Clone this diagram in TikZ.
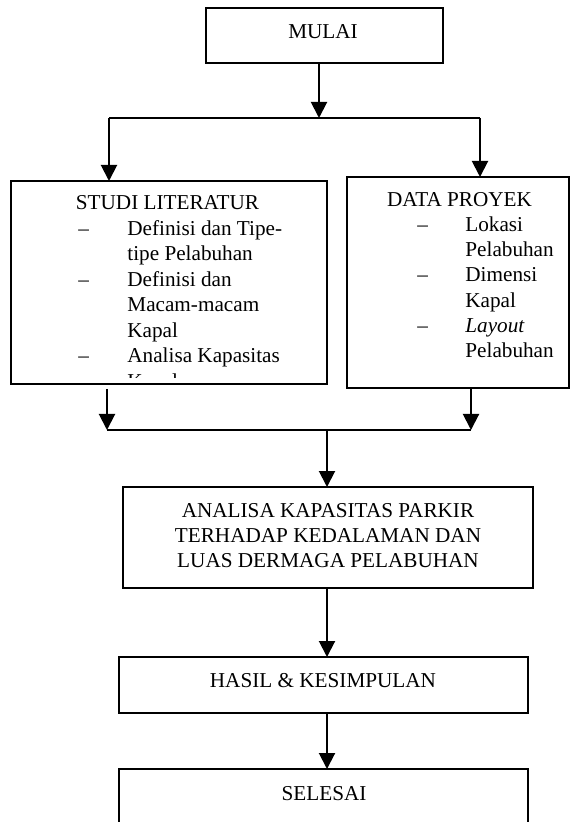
\documentclass[tikz,border=0pt]{standalone}
\usepackage{fontspec}
\setmainfont{Liberation Serif}
\usetikzlibrary{arrows.meta}
\begin{document}
\begin{tikzpicture}[x=0.5pt,y=-0.5pt,
  box/.style={draw, line width=1pt, inner sep=0pt, outer sep=0pt},
  txt/.style={anchor=base, inner sep=0pt, font=\fontsize{10.6pt}{12.5pt}\selectfont},
  ltxt/.style={txt, anchor=base west},
  conn/.style={line width=1pt},
  arr/.style={conn, -{Triangle[width=8pt,length=8pt]}}]
\useasboundingbox (0,0) rectangle (571,822);
\clip (0,0) rectangle (571,822);
% boxes
\node[box, minimum width=118.5pt, minimum height=27.5pt] (mulai) at (324.5,35.5) {};
\node[box, minimum width=158pt, minimum height=101.5pt] (studi) at (169,282.5) {};
\node[box, minimum width=111pt, minimum height=105.5pt] (data) at (458,282.5) {};
\node[box, minimum width=205pt, minimum height=50.5pt] (analisa) at (328,537.5) {};
\node[box, minimum width=204.5pt, minimum height=28pt] (hasil) at (323.5,685) {};
\node[box, minimum width=204.5pt, minimum height=50.5pt] (selesai) at (323.5,819.5) {};
% junction points
\coordinate (s) at (319,118);
\coordinate (sl) at (109,118);
\coordinate (sr) at (480,118);
\coordinate (ml) at (107,430);
\coordinate (mr) at (471,430);
\coordinate (mc) at (327,430);
\path (studi.south -| ml) ++(0,5) coordinate (sb);
\path (data.south -| mr) ++(0,1) coordinate (db);
% connectors
\draw[arr] (mulai.south -| s) -- (s);
\draw[conn] (sl) -- (sr);
\draw[arr] (sl) -- (studi.north -| sl);
\draw[arr] (sr) -- (data.north -| sr);
\draw[arr] (sb) -- (ml);
\draw[arr] (db) -- (mr);
\draw[conn] (ml) -- (mr);
\draw[arr] (mc) -- (analisa.north -| mc);
\draw[arr] (analisa.south -| mc) -- (hasil.north -| mc);
\draw[arr] (hasil.south -| mc) -- (selesai.north -| mc);
% texts
\node[txt] (tmulai) at (323,39) {MULAI};
\node[txt] (st0) at (167.5,210) {STUDI LITERATUR};
\node[ltxt] (sd1) at (78,235.5) {–};
\node[ltxt] (si1) at (127,235.5) {Definisi dan Tipe-};
\node[ltxt] (si2) at (127,261) {tipe Pelabuhan};
\node[ltxt] (sd2) at (78,286.5) {–};
\node[ltxt] (si3) at (127,286.5) {Definisi dan};
\node[ltxt] (si4) at (127,312) {Macam-macam};
\node[ltxt] (si5) at (127,337.5) {Kapal};
\node[ltxt] (sd3) at (78,363) {–};
\node[ltxt] (si6) at (127,363) {Analisa Kapasitas};
\begin{scope}
\clip (11,181) rectangle (327,378);
\node[ltxt] (si7) at (127,388.5) {Kapal};
\end{scope}
\node[txt] (dt0) at (459.5,207) {DATA PROYEK};
\node[ltxt] (dd1) at (417,232) {–};
\node[ltxt] (di1) at (465,232) {Lokasi};
\node[ltxt] (di2) at (465,257) {Pelabuhan};
\node[ltxt] (dd2) at (417,282) {–};
\node[ltxt] (di3) at (465,282) {Dimensi};
\node[ltxt] (di4) at (465,308) {Kapal};
\node[ltxt] (dd3) at (417,333) {–};
\node[ltxt] (di5) at (465,333) {\textit{Layout}};
\node[ltxt] (di6) at (465,358) {Pelabuhan};
\node[txt] (ta1) at (328,517) {ANALISA KAPASITAS PARKIR};
\node[txt] (ta2) at (328,542) {TERHADAP KEDALAMAN DAN};
\node[txt] (ta3) at (328,567) {LUAS DERMAGA PELABUHAN};
\node[txt] (thasil) at (323,687) {HASIL \& KESIMPULAN};
\node[txt] (tselesai) at (324,800) {SELESAI};
\end{tikzpicture}
\end{document}
